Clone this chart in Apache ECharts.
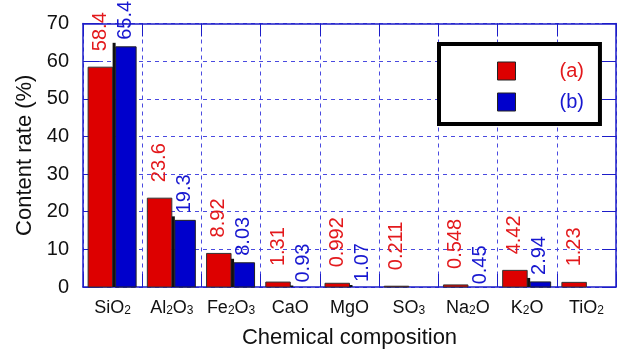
<!DOCTYPE html>
<html>
<head>
<meta charset="utf-8">
<script src="https://cdn.jsdelivr.net/npm/echarts@6/dist/echarts.min.js"></script>
<style>
html,body{margin:0;padding:0;background:#fff;}
#chart{width:621px;height:354px;}
</style>
</head>
<body>
<div id="chart"></div>
<script>
// ---- data ----
const categories = ['SiO2', 'Al2O3', 'Fe2O3', 'CaO', 'MgO', 'SO3', 'Na2O', 'K2O', 'TiO2'];
const seriesNames = ['(a)', '(b)'];
const valuesA = [58.4, 23.6, 8.92, 1.31, 0.992, 0.211, 0.548, 4.42, 1.23];
const valuesB = [65.4, 19.3, 8.03, 0.93, 1.07, null, 0.45, 2.94, null];
const yTicks = [0, 10, 20, 30, 40, 50, 60, 70];

// ---- styles ----
const FONT = '"Liberation Sans", Arial, sans-serif';
const RED = '#dd0000', RED_TXT = '#e3191c';
const BLUE = '#0000cc', BLUE_TXT = '#1717d0';
const AXIS = '#1c1cc8', GRIDC = '#4a4ae0';
const BAR_W_A = 24.5, BAR_W_B = 23.5;

function catLabel(s) {
  return s.replace(/(\d)/g, '{s|$1}').replace(/(^|\})([^{}]+)(?=\{|$)/g, function (m, p, t) { return p + '{n|' + t + '}'; });
}

const chart = echarts.init(document.getElementById('chart'), null, {renderer: 'canvas'});

function renderA(params, api) {
  const v = api.value(1);
  if (v == null || isNaN(v)) return null;
  const top = api.coord([api.value(0), v]);
  const base = api.coord([api.value(0), 0]);
  const x0 = top[0] - BAR_W_A;
  const h = base[1] - top[1];
  return {
    type: 'group',
    children: [
      {type: 'rect', shape: {x: x0, y: top[1], width: BAR_W_A, height: h},
       style: {fill: RED, stroke: '#333', lineWidth: 1}},
      {type: 'text', x: x0 + BAR_W_A / 2, y: top[1] - 16, rotation: Math.PI / 2,
       style: {text: String(v), fill: RED_TXT, font: '20px ' + FONT, align: 'left', verticalAlign: 'middle'}}
    ]
  };
}

function renderB(params, api) {
  const v = api.value(1);
  if (v == null || isNaN(v)) return null;
  const top = api.coord([api.value(0), v]);
  const base = api.coord([api.value(0), 0]);
  const x0 = top[0];
  const h = base[1] - top[1];
  const children = [
    {type: 'rect', shape: {x: x0, y: top[1] + 2, width: 3, height: Math.max(0, h - 2)}, style: {fill: '#111'}}
  ];
  const hb = h - 6;
  if (hb > 0) {
    children.push({type: 'rect', shape: {x: x0 + 3, y: top[1] + 6, width: BAR_W_B - 3, height: hb},
      style: {fill: BLUE, stroke: '#222', lineWidth: 1}});
  }
  children.push({type: 'text', x: x0 + BAR_W_B / 2 + 1, y: top[1] - 1, rotation: Math.PI / 2,
    style: {text: String(v), fill: BLUE_TXT, font: '20px ' + FONT, align: 'left', verticalAlign: 'middle'}});
  return {type: 'group', children: children};
}

const option = {
  backgroundColor: '#ffffff',
  animation: false,
  textStyle: {fontFamily: FONT},
  grid: {left: 83, right: 5, top: 23.5, bottom: 66.5, containLabel: false},
  legend: {
    orient: 'vertical',
    left: 439, top: 44,
    padding: [17, 16, 12, 58],
    itemWidth: 18, itemHeight: 18, itemGap: 11,
    icon: 'rect',
    backgroundColor: '#fff',
    borderColor: '#000', borderWidth: 4,
    textStyle: {fontSize: 20, fontFamily: FONT, padding: [0, 0, 0, 39], lineHeight: 18},
    data: [
      {name: seriesNames[0], itemStyle: {color: RED, borderColor: '#222', borderWidth: 1}, textStyle: {color: RED_TXT}},
      {name: seriesNames[1], itemStyle: {color: BLUE, borderColor: '#222', borderWidth: 1}, textStyle: {color: BLUE_TXT}}
    ]
  },
  xAxis: [
    {
      type: 'category', data: categories, position: 'bottom',
      name: 'Chemical composition', nameLocation: 'middle', nameGap: 40,
      nameTextStyle: {fontSize: 22, color: '#111', fontFamily: FONT},
      axisLine: {onZero: false, lineStyle: {color: AXIS, width: 1.5}},
      axisTick: {show: true, inside: true, length: 13, lineStyle: {color: AXIS, width: 1}},
      axisLabel: {
        interval: 0, margin: 10, color: '#111',
        formatter: function (v) { return catLabel(v); },
        rich: {
          n: {fontSize: 18, fontFamily: FONT, color: '#111', verticalAlign: 'bottom', lineHeight: 20},
          s: {fontSize: 12, fontFamily: FONT, color: '#111', verticalAlign: 'bottom', lineHeight: 16}
        }
      },
      splitLine: {show: true, lineStyle: {color: GRIDC, type: [4, 4], width: 1}}
    },
    {
      type: 'category', data: categories, position: 'top',
      axisLine: {onZero: false, lineStyle: {color: AXIS, width: 1.5}},
      axisTick: {show: true, inside: true, length: 13, lineStyle: {color: AXIS, width: 1}},
      axisLabel: {show: false}, splitLine: {show: false}
    }
  ],
  yAxis: [
    {
      type: 'value', min: yTicks[0], max: yTicks[yTicks.length - 1], interval: yTicks[1] - yTicks[0],
      name: 'Content rate (%)', nameLocation: 'middle', nameGap: 47,
      nameTextStyle: {fontSize: 22, color: '#111', fontFamily: FONT},
      axisLine: {show: true, onZero: false, lineStyle: {color: AXIS, width: 1.5}},
      axisTick: {show: true, inside: true, length: 16, lineStyle: {color: AXIS, width: 1}},
      axisLabel: {fontSize: 20, color: '#111', margin: 14, fontFamily: FONT},
      splitLine: {show: true, lineStyle: {color: GRIDC, type: [4, 4], width: 1}}
    },
    {
      type: 'value', min: yTicks[0], max: yTicks[yTicks.length - 1], interval: yTicks[1] - yTicks[0],
      position: 'right',
      axisLine: {show: true, onZero: false, lineStyle: {color: AXIS, width: 1.5}},
      axisTick: {show: true, inside: true, length: 14, lineStyle: {color: AXIS, width: 1}},
      axisLabel: {show: false}, splitLine: {show: false}
    }
  ],
  series: [
    {
      name: seriesNames[0], type: 'custom', renderItem: renderA,
      itemStyle: {color: RED},
      data: valuesA.map(function (v, i) { return [i, v]; }),
      z: 3
    },
    {
      name: seriesNames[1], type: 'custom', renderItem: renderB,
      itemStyle: {color: BLUE},
      data: valuesB.map(function (v, i) { return [i, v == null ? '-' : v]; }),
      z: 3
    }
  ]
};
chart.setOption(option);
</script>
</body>
</html>
